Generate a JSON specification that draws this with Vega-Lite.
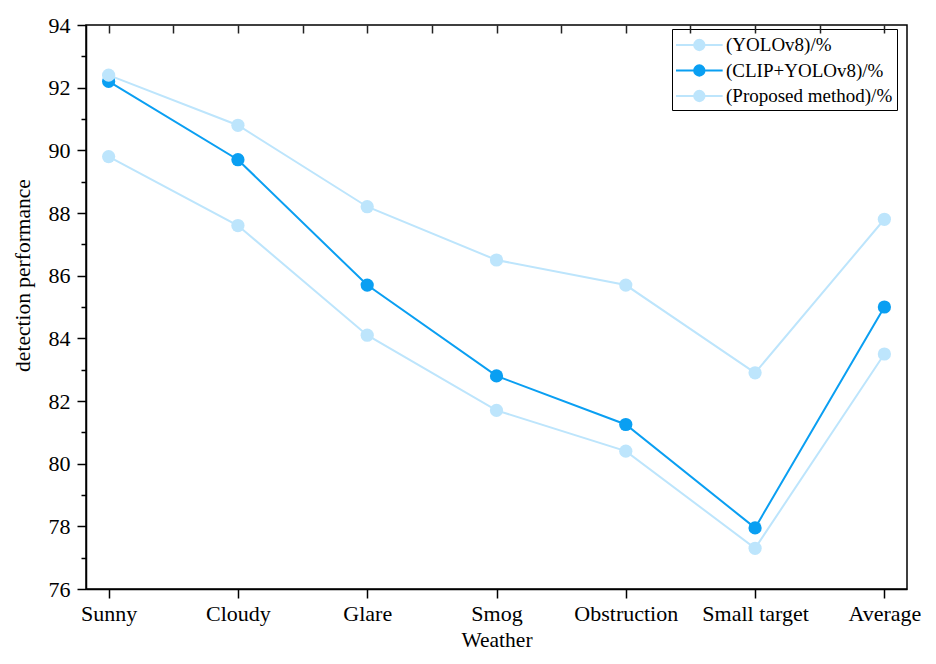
{
  "$schema": "https://vega.github.io/schema/vega-lite/v6.json",
  "width": 821,
  "height": 564,
  "autosize": "none",
  "padding": {"left": 86, "top": 25, "right": 29, "bottom": 75},
  "background": "white",
  "data": {
    "values": [
      {"weather": "Sunny", "method": "(YOLOv8)/%", "value": 89.8},
      {"weather": "Cloudy", "method": "(YOLOv8)/%", "value": 87.6},
      {"weather": "Glare", "method": "(YOLOv8)/%", "value": 84.1},
      {"weather": "Smog", "method": "(YOLOv8)/%", "value": 81.7},
      {"weather": "Obstruction", "method": "(YOLOv8)/%", "value": 80.4},
      {"weather": "Small target", "method": "(YOLOv8)/%", "value": 77.3},
      {"weather": "Average", "method": "(YOLOv8)/%", "value": 83.5},
      {"weather": "Sunny", "method": "(CLIP+YOLOv8)/%", "value": 92.2},
      {"weather": "Cloudy", "method": "(CLIP+YOLOv8)/%", "value": 89.7},
      {"weather": "Glare", "method": "(CLIP+YOLOv8)/%", "value": 85.7},
      {"weather": "Smog", "method": "(CLIP+YOLOv8)/%", "value": 82.8},
      {"weather": "Obstruction", "method": "(CLIP+YOLOv8)/%", "value": 81.25},
      {"weather": "Small target", "method": "(CLIP+YOLOv8)/%", "value": 77.95},
      {"weather": "Average", "method": "(CLIP+YOLOv8)/%", "value": 85.0},
      {"weather": "Sunny", "method": "(Proposed method)/%", "value": 92.4},
      {"weather": "Cloudy", "method": "(Proposed method)/%", "value": 90.8},
      {"weather": "Glare", "method": "(Proposed method)/%", "value": 88.2},
      {"weather": "Smog", "method": "(Proposed method)/%", "value": 86.5},
      {"weather": "Obstruction", "method": "(Proposed method)/%", "value": 85.7},
      {"weather": "Small target", "method": "(Proposed method)/%", "value": 82.9},
      {"weather": "Average", "method": "(Proposed method)/%", "value": 87.8}
    ]
  },
  "layer": [
    {
      "encoding": {
        "x": {
          "field": "weather",
          "type": "nominal",
          "sort": null,
          "scale": {"type": "point", "padding": 0.175}
        },
        "y": {
          "field": "value",
          "type": "quantitative",
          "scale": {"domain": [76, 94], "nice": false, "zero": false},
          "axis": {
            "title": "detection performance",
            "values": [76, 77, 78, 79, 80, 81, 82, 83, 84, 85, 86, 87, 88, 89, 90, 91, 92, 93, 94],
            "labelExpr": "datum.value % 2 === 0 ? datum.label : ''",
            "tickSize": {"condition": {"test": "datum.value % 2 === 0", "value": 9}, "value": 5},
            "labelPadding": 7,
            "titleY": 250,
            "titlePadding": 14,
            "grid": false
          }
        },
        "color": {
          "field": "method",
          "type": "nominal",
          "sort": null,
          "scale": {
            "domain": ["(YOLOv8)/%", "(CLIP+YOLOv8)/%", "(Proposed method)/%"],
            "range": ["#bde5fc", "#0a9ff2", "#bde5fc"]
          },
          "legend": {
            "title": null,
            "orient": "none",
            "legendX": 586,
            "legendY": 4,
            "symbolType": "M-1.09,0L3.15,0M0.56,0A0.47,0.47,0,1,1,1.5,0A0.47,0.47,0,1,1,0.56,0Z",
            "symbolSize": 484,
            "symbolStrokeWidth": 2,
            "labelOffset": 26,
            "labelFontSize": 19,
            "labelLimit": 300,
            "padding": 4,
            "rowPadding": 3.5,
            "strokeColor": "black",
            "fillColor": "white",
            "encode": {
              "symbols": {
                "update": {
                  "stroke": {"scale": "color", "field": "value"},
                  "fill": {"scale": "color", "field": "value"},
                  "opacity": {"value": 1}
                }
              }
            }
          }
        }
      },
      "layer": [
        {
          "mark": {"type": "line", "strokeWidth": 2},
          "encoding": {
            "x": {
              "field": "weather",
              "type": "nominal",
              "sort": null,
              "scale": {"type": "point", "padding": 0.175},
              "axis": {
                "orient": "bottom",
                "title": "Weather",
                "labelAngle": 0,
                "tickSize": 9,
                "labelPadding": 5,
                "titlePadding": 5
              }
            }
          }
        },
        {
          "mark": {"type": "circle", "size": 175, "opacity": 1},
          "encoding": {
            "x": {
              "field": "weather",
              "type": "nominal",
              "sort": null,
              "scale": {"type": "point", "padding": 0.175},
              "axis": null
            }
          }
        }
      ],
      "resolve": {"axis": {"x": "independent"}}
    },
    {
      "mark": {"type": "rule", "opacity": 0},
      "encoding": {
        "x": {
          "datum": 0,
          "type": "quantitative",
          "scale": {"domain": [-0.175, 6.175], "nice": false, "zero": false},
          "axis": {
            "orient": "top",
            "offset": -8,
            "values": [0, 0.5, 1, 1.5, 2, 2.5, 3, 3.5, 4, 4.5, 5, 5.5, 6],
            "labels": true,
            "labelColor": "white",
            "tickColor": "#222222",
            "tickWidth": 1.5,
            "tickOpacity": 1,
            "domain": false,
            "grid": false,
            "tickSize": 8,
            "zindex": 2,
            "title": null
          }
        }
      }
    }
  ],
  "resolve": {"scale": {"x": "independent"}, "axis": {"x": "independent"}},
  "config": {
    "font": "Liberation Serif",
    "view": {"stroke": "black", "strokeWidth": 1.5},
    "axis": {
      "domainColor": "black",
      "domainWidth": 1.5,
      "tickColor": "black",
      "tickWidth": 1.5,
      "labelColor": "black",
      "labelFont": "Liberation Serif",
      "labelFontSize": 22,
      "titleFont": "Liberation Serif",
      "titleFontSize": 21.5,
      "titleFontWeight": "normal",
      "titleColor": "black"
    },
    "legend": {
      "labelFont": "Liberation Serif",
      "labelColor": "black"
    }
  }
}
